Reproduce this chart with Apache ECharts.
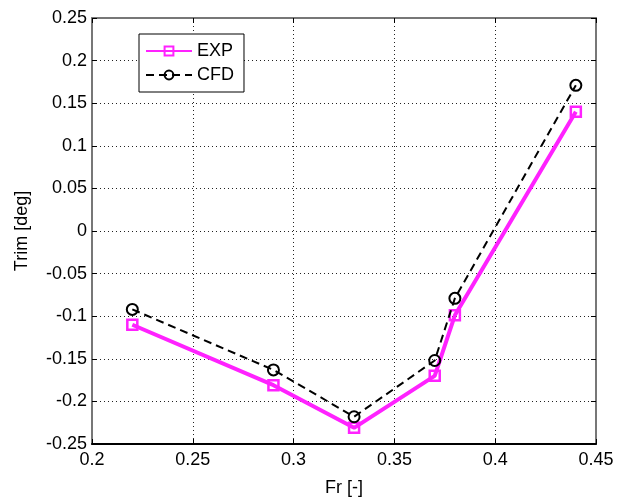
<!DOCTYPE html>
<html>
<head>
<meta charset="utf-8">
<script src="https://cdn.jsdelivr.net/npm/echarts@6/dist/echarts.min.js"></script>
<style>
  html, body { margin: 0; padding: 0; background: #fff; }
  #main { width: 625px; height: 502px; }
</style>
</head>
<body>
<div id="main"></div>
<script>
// Froude numbers and trim values
var frValues = [0.22, 0.29, 0.33, 0.37, 0.38, 0.44];
var expTrim = [-0.110, -0.181, -0.231, -0.170, -0.099, 0.140];
var cfdTrim = [-0.092, -0.163, -0.218, -0.152, -0.079, 0.171];

var xTicks = [0.2, 0.25, 0.3, 0.35, 0.4, 0.45];
var yTicks = [-0.25, -0.2, -0.15, -0.1, -0.05, 0, 0.05, 0.1, 0.15, 0.2, 0.25];

function pairs(xs, ys) {
    var out = [];
    for (var i = 0; i < xs.length; i++) out.push([xs[i], ys[i]]);
    return out;
}

var fontFam = 'Liberation Sans, Arial, sans-serif';
var myChart = echarts.init(document.getElementById('main'));

function fmt(v) { return +v.toFixed(2); }

var baseX = {
    type: 'value',
    min: xTicks[0], max: xTicks[xTicks.length - 1], interval: 0.05,
    axisLine: { onZero: false, lineStyle: { color: '#777', width: 2 } },
    axisTick: { inside: true, length: 5, lineStyle: { color: '#000' } },
    splitLine: { show: false }
};
var baseY = {
    type: 'value',
    min: yTicks[0], max: yTicks[yTicks.length - 1], interval: 0.05,
    axisLine: { onZero: false, lineStyle: { color: '#777', width: 2 } },
    axisTick: { inside: true, length: 5, lineStyle: { color: '#000' } },
    splitLine: { show: false }
};

var option = {
    backgroundColor: '#fff',
    animation: false,
    grid: { left: 92, right: 29, top: 18, bottom: 56 },
    legend: {
        left: 139, top: 34,
        orient: 'vertical',
        itemWidth: 46, itemHeight: 11, itemGap: 6,
        padding: [8, 10, 8, 6],
        borderColor: '#000', borderWidth: 1,
        backgroundColor: '#fff',
        textStyle: { fontFamily: fontFam, fontSize: 18, color: '#000' },
        data: ['EXP', 'CFD']
    },
    xAxis: [
        Object.assign({}, baseX, {
            position: 'bottom',
            axisLine: { onZero: false, lineStyle: { color: '#000', width: 2 } },
            name: 'Fr [-]', nameLocation: 'middle', nameGap: 35,
            nameTextStyle: { fontFamily: fontFam, fontSize: 18, color: '#000' },
            axisLabel: { fontFamily: fontFam, fontSize: 18, color: '#000', margin: 7, formatter: fmt },
            splitLine: { show: true, lineStyle: { color: '#222', type: [1, 3], width: 1 } }
        }),
        Object.assign({}, baseX, { position: 'top', axisLabel: { show: false } })
    ],
    yAxis: [
        Object.assign({}, baseY, {
            position: 'left',
            name: 'Trim [deg]', nameLocation: 'middle', nameGap: 61,
            nameTextStyle: { fontFamily: fontFam, fontSize: 18, color: '#000' },
            axisLabel: { fontFamily: fontFam, fontSize: 18, color: '#000', margin: 5, formatter: fmt },
            splitLine: { show: true, lineStyle: { color: '#222', type: [1, 3], width: 1 } }
        }),
        Object.assign({}, baseY, { position: 'right', axisLabel: { show: false } })
    ],
    series: [
        {
            name: 'EXP', type: 'line',
            data: pairs(frValues, expTrim),
            symbol: 'rect', symbolSize: 10,
            lineStyle: { color: '#ff22ff', width: 4 },
            itemStyle: { color: 'rgba(255,255,255,0)', borderColor: '#ff22ff', borderWidth: 2.5 },
            z: 2
        },
        {
            name: 'CFD', type: 'line',
            data: pairs(frValues, cfdTrim),
            symbol: 'circle', symbolSize: 11,
            lineStyle: { color: '#000', width: 2, type: [8, 5] },
            itemStyle: { color: 'rgba(255,255,255,0)', borderColor: '#000', borderWidth: 2 },
            z: 3
        }
    ]
};
myChart.setOption(option);
</script>
</body>
</html>
